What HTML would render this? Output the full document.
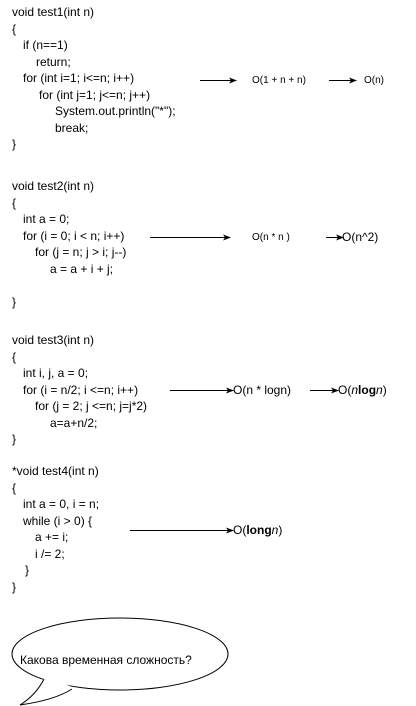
<!DOCTYPE html>
<html><head><meta charset="utf-8"><style>
body{margin:0;background:#fff;width:416px;height:706px;overflow:hidden;position:relative;font-family:"Liberation Sans",Arial,sans-serif;color:#000}
.t{position:absolute;font-size:12px;line-height:14px;white-space:pre}
.c{position:absolute;left:12px;font-size:12px;line-height:16.5px;white-space:normal}
.c div{height:16.5px;white-space:pre}
.s{font-size:10px}
svg{position:absolute;left:0;top:0}
</style></head><body>
<div class="c" style="top:4px">
<div>void test1(int n)</div>
<div>{</div>
<div style="padding-left:11px">if (n==1)</div>
<div style="padding-left:24px">return;</div>
<div style="padding-left:11px">for (int i=1; i&lt;=n; i++)</div>
<div style="padding-left:27px">for (int j=1; j&lt;=n; j++)</div>
<div style="padding-left:43px">System.out.println("*");</div>
<div style="padding-left:43px">break;</div>
<div>}</div>
</div>
<div class="c" style="top:178px">
<div>void test2(int n)</div>
<div>{</div>
<div style="padding-left:11px">int a = 0;</div>
<div style="padding-left:11px">for (i = 0; i &lt; n; i++)</div>
<div style="padding-left:23px">for (j = n; j &gt; i; j--)</div>
<div style="padding-left:38px">a = a + i + j;</div>
<div></div>
<div>}</div>
</div>
<div class="c" style="top:332px">
<div>void test3(int n)</div>
<div>{</div>
<div style="padding-left:11px">int i, j, a = 0;</div>
<div style="padding-left:11px">for (i = n/2; i &lt;=n; i++)</div>
<div style="padding-left:23px">for (j = 2; j &lt;=n; j=j*2)</div>
<div style="padding-left:38px">a=a+n/2;</div>
<div>}</div>
</div>
<div class="c" style="top:463px">
<div>*void test4(int n)</div>
<div>{</div>
<div style="padding-left:11px">int a = 0, i = n;</div>
<div style="padding-left:11px">while (i &gt; 0) {</div>
<div style="padding-left:23px">a += i;</div>
<div style="padding-left:23px">i /= 2;</div>
<div style="padding-left:13px">}</div>
<div>}</div>
</div>
<div class="t s" style="left:252px;top:74px">O(1 + n + n)</div>
<div class="t s" style="left:364px;top:74px">O(n)</div>
<div class="t s" style="left:252px;top:231px">O(n * n )</div>
<div class="t" style="left:342px;top:230px">O(n^2)</div>
<div class="t" style="left:233px;top:383px">O(n * logn)</div>
<div class="t" style="left:338px;top:383px">O(<i>n</i><b>log</b><i>n</i>)</div>
<div class="t" style="left:233px;top:523px">O(<b>long</b><i>n</i>)</div>
<svg width="416" height="706">
<defs><marker id="a" markerWidth="8" markerHeight="6" refX="7" refY="3" orient="auto" markerUnits="userSpaceOnUse"><path d="M0,0L8,3L0,6L2,3Z" fill="#000"/></marker></defs>
<g stroke="#000" stroke-width="1" marker-end="url(#a)">
<line x1="200" y1="80.5" x2="236" y2="80.5"/>
<line x1="329" y1="80.5" x2="356" y2="80.5"/>
<line x1="150" y1="237.5" x2="230" y2="237.5"/>
<line x1="326" y1="237.5" x2="343" y2="237.5"/>
<line x1="170" y1="390.5" x2="233" y2="390.5"/>
<line x1="310" y1="390.5" x2="338" y2="390.5"/>
<line x1="130" y1="530.5" x2="233" y2="530.5"/>
</g>
<ellipse cx="120" cy="654" rx="108" ry="36" fill="#fff" stroke="#000"/>
<path d="M44,677 Q36,695 20,705 Q55,700 72,687 L60,682Z" fill="#fff" stroke="none"/>
<path d="M44,679 Q36,695 20,705 Q55,700 72,689" fill="none" stroke="#000"/>
</svg>
<div class="t" style="left:20px;top:653px">Какова временная сложность?</div>
</body></html>
